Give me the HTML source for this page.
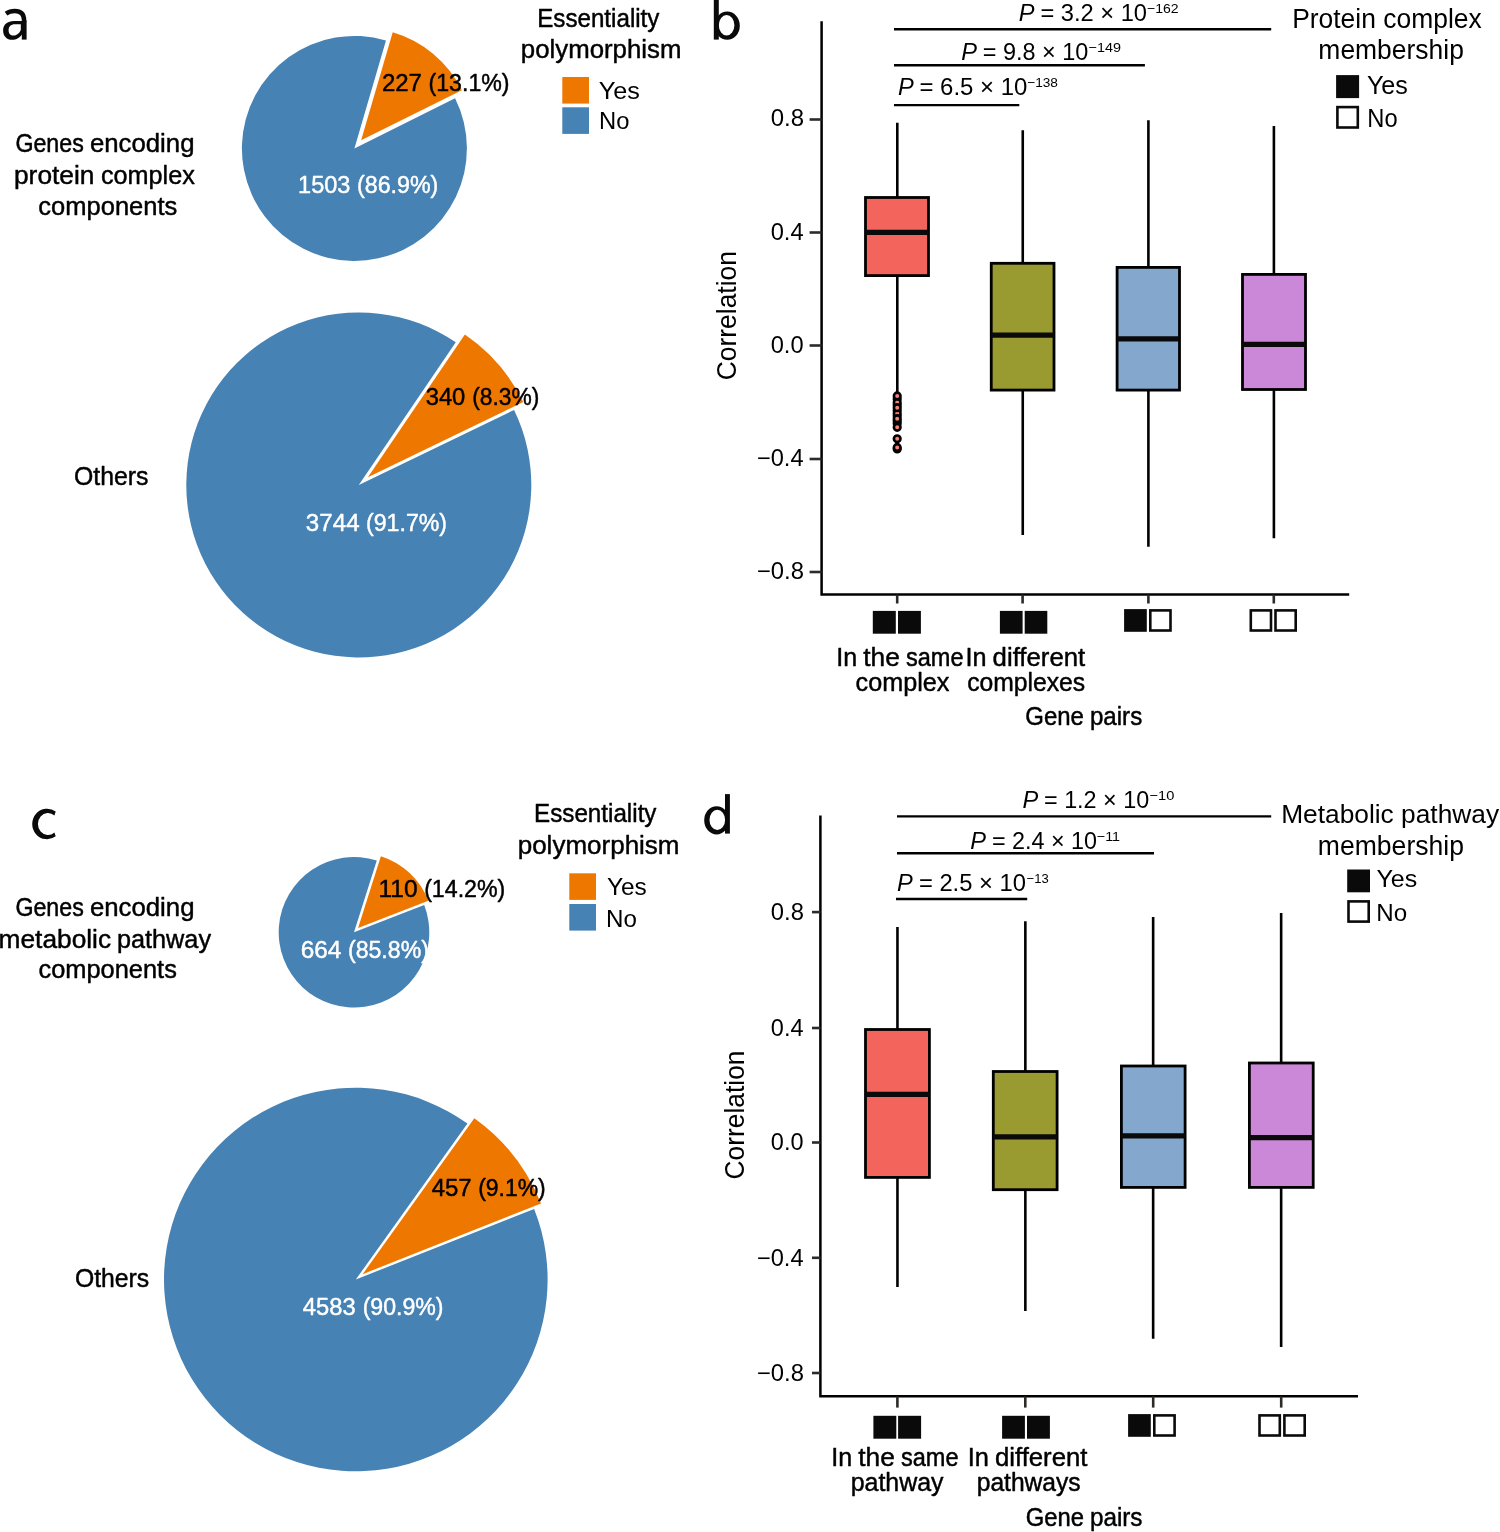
<!DOCTYPE html>
<html><head><meta charset="utf-8"><style>html,body{margin:0;padding:0;background:#fff;width:1500px;height:1532px;overflow:hidden}svg{display:block;will-change:transform}text{font-family:"Liberation Sans",sans-serif}</style></head><body>
<svg xmlns="http://www.w3.org/2000/svg" width="1500" height="1532" viewBox="0 0 1500 1532" font-family="'Liberation Sans', sans-serif">
<rect width="1500" height="1532" fill="#fff"/>

<g fill="#0a0a0a">
<path d="M55.7 811.6 A14.8 15.25 0 1 0 55.7 836.3 L54.4 832.6 A10.1 11.1 0 1 1 54.4 815.4 Z"/>
<rect x="713.8" y="-2" width="5.0" height="41.6"/>
<path fill-rule="evenodd" d="M714.6 25.7 A12.6 14.1 0 1 0 739.8 25.7 A12.6 14.1 0 1 0 714.6 25.7 Z M718.8 25.3 A7.8 10.2 0 1 1 734.4 25.3 A7.8 10.2 0 1 1 718.8 25.3 Z"/>
<rect x="725.0" y="794.1" width="4.9" height="39.5"/>
<path fill-rule="evenodd" d="M704.2 820.35 A12.4 14.15 0 1 0 729.0 820.35 A12.4 14.15 0 1 0 704.2 820.35 Z M709.5 819.9 A7.8 10.2 0 1 1 725.1 819.9 A7.8 10.2 0 1 1 709.5 819.9 Z"/>
<rect x="21.8" y="20.4" width="4.8" height="19.2"/>
<path d="M6.0 13.6 C8.8 11.6 12.0 11.0 14.8 11.0 C21.0 11.0 24.1 14.0 24.1 20.5 V22" fill="none" stroke="#0a0a0a" stroke-width="4.4"/>
<path fill-rule="evenodd" d="M23 21 H14 C7.5 21 3.1 24.5 3.1 30.5 C3.1 36.3 7.0 39.8 12.0 39.8 C16.5 39.8 20.0 37.5 22.0 34.5 Z M20.8 24.2 H15 C10.8 24.2 8.6 26.5 8.6 30.2 C8.6 33.5 10.5 35.6 13.3 35.6 C16.8 35.6 19.6 33 20.8 30 Z"/>
</g>

<path d="M354.40 148.40 L455.08 98.20 A112.50 112.50 0 1 1 385.98 40.42 Z" fill="#4682B4"/><path d="M361.14 140.34 L392.71 32.37 A112.50 112.50 0 0 1 461.82 90.15 Z" fill="#EE7700"/>
<path d="M358.80 485.00 L514.10 409.92 A172.50 172.50 0 1 1 455.76 342.33 Z" fill="#4682B4"/><path d="M367.88 477.16 L464.84 334.49 A172.50 172.50 0 0 1 523.19 402.08 Z" fill="#EE7700"/>
<path d="M354.00 932.30 L424.20 905.07 A75.30 75.30 0 1 1 376.77 860.52 Z" fill="#4682B4"/><path d="M358.11 927.93 L380.88 856.15 A75.30 75.30 0 0 1 428.31 900.70 Z" fill="#EE7700"/>
<path d="M355.80 1279.50 L534.13 1208.89 A191.80 191.80 0 1 1 467.45 1123.55 Z" fill="#4682B4"/><path d="M362.66 1274.14 L474.31 1118.19 A191.80 191.80 0 0 1 540.99 1203.54 Z" fill="#EE7700"/>
<rect x="562.30" y="77.00" width="26.7" height="26.6" fill="#EE7700"/>
<rect x="562.30" y="107.30" width="26.7" height="26.6" fill="#4682B4"/>
<rect x="569.30" y="873.30" width="26.7" height="26.6" fill="#EE7700"/>
<rect x="569.30" y="904.00" width="26.7" height="26.6" fill="#4682B4"/>
<line x1="897.30" y1="122.70" x2="897.30" y2="392.00" stroke="#000" stroke-width="2.6"/>
<rect x="865.50" y="197.50" width="63.00" height="78.10" fill="#F3655C" stroke="#000" stroke-width="2.8"/>
<line x1="865.50" y1="232.40" x2="928.50" y2="232.40" stroke="#0a0a0a" stroke-width="5.3"/>
<line x1="1022.75" y1="130.30" x2="1022.75" y2="534.90" stroke="#000" stroke-width="2.6"/>
<rect x="991.25" y="263.30" width="62.75" height="126.80" fill="#999B30" stroke="#000" stroke-width="2.8"/>
<line x1="991.25" y1="335.10" x2="1054.00" y2="335.10" stroke="#0a0a0a" stroke-width="5.3"/>
<line x1="1148.40" y1="120.20" x2="1148.40" y2="546.80" stroke="#000" stroke-width="2.6"/>
<rect x="1117.10" y="267.40" width="62.40" height="122.70" fill="#84A8CD" stroke="#000" stroke-width="2.8"/>
<line x1="1117.10" y1="338.80" x2="1179.50" y2="338.80" stroke="#0a0a0a" stroke-width="5.3"/>
<line x1="1273.90" y1="126.10" x2="1273.90" y2="538.20" stroke="#000" stroke-width="2.6"/>
<rect x="1242.50" y="274.40" width="63.00" height="115.10" fill="#CC88D8" stroke="#000" stroke-width="2.8"/>
<line x1="1242.50" y1="344.40" x2="1305.50" y2="344.40" stroke="#0a0a0a" stroke-width="5.3"/>
<circle cx="897.20" cy="399.00" r="3.3" fill="#F4827A" stroke="#000" stroke-width="2.6"/>
<circle cx="897.20" cy="405.00" r="3.3" fill="#F4827A" stroke="#000" stroke-width="2.6"/>
<circle cx="897.20" cy="410.50" r="3.3" fill="#F4827A" stroke="#000" stroke-width="2.6"/>
<circle cx="897.20" cy="416.00" r="3.3" fill="#F4827A" stroke="#000" stroke-width="2.6"/>
<circle cx="897.20" cy="421.00" r="3.3" fill="#F4827A" stroke="#000" stroke-width="2.6"/>
<circle cx="897.20" cy="423.50" r="3.3" fill="#F4827A" stroke="#000" stroke-width="2.6"/>
<circle cx="897.20" cy="449.00" r="3.3" fill="#F4827A" stroke="#000" stroke-width="2.6"/>
<circle cx="897.20" cy="402.50" r="3.3" fill="#F4827A" stroke="#000" stroke-width="2.6"/>
<circle cx="897.20" cy="413.40" r="3.3" fill="#F4827A" stroke="#000" stroke-width="2.6"/>
<circle cx="897.20" cy="395.90" r="3.3" fill="#F4827A" stroke="#000" stroke-width="2.6"/>
<circle cx="897.20" cy="407.70" r="3.3" fill="#F4827A" stroke="#000" stroke-width="2.6"/>
<circle cx="897.20" cy="418.70" r="3.3" fill="#F4827A" stroke="#000" stroke-width="2.6"/>
<circle cx="897.20" cy="427.30" r="3.3" fill="#F4827A" stroke="#000" stroke-width="2.6"/>
<circle cx="897.20" cy="438.80" r="3.3" fill="#F4827A" stroke="#000" stroke-width="2.6"/>
<circle cx="897.20" cy="447.40" r="3.3" fill="#F4827A" stroke="#000" stroke-width="2.6"/>
<path d="M821.60 21.30 V594.60 H1349.20" fill="none" stroke="#000" stroke-width="2.5"/>
<line x1="809.60" y1="119.50" x2="821.60" y2="119.50" stroke="#2d2a28" stroke-width="2.6"/>
<line x1="809.60" y1="232.50" x2="821.60" y2="232.50" stroke="#2d2a28" stroke-width="2.6"/>
<line x1="809.60" y1="345.50" x2="821.60" y2="345.50" stroke="#2d2a28" stroke-width="2.6"/>
<line x1="809.60" y1="459.00" x2="821.60" y2="459.00" stroke="#2d2a28" stroke-width="2.6"/>
<line x1="809.60" y1="572.00" x2="821.60" y2="572.00" stroke="#2d2a28" stroke-width="2.6"/>
<line x1="897.20" y1="594.60" x2="897.20" y2="603.50" stroke="#2d2a28" stroke-width="2.6"/>
<line x1="1022.60" y1="594.60" x2="1022.60" y2="603.50" stroke="#2d2a28" stroke-width="2.6"/>
<line x1="1148.40" y1="594.60" x2="1148.40" y2="603.50" stroke="#2d2a28" stroke-width="2.6"/>
<line x1="1273.80" y1="594.60" x2="1273.80" y2="603.50" stroke="#2d2a28" stroke-width="2.6"/>
<line x1="894.00" y1="29.20" x2="1271.20" y2="29.20" stroke="#000" stroke-width="2.4"/>
<line x1="894.00" y1="65.30" x2="1144.90" y2="65.30" stroke="#000" stroke-width="2.4"/>
<line x1="894.00" y1="105.10" x2="1019.30" y2="105.10" stroke="#000" stroke-width="2.4"/>
<rect x="1336.10" y="75.10" width="23.00" height="23.00" fill="#0a0a0a"/>
<rect x="1337.40" y="107.10" width="20.40" height="20.40" fill="none" stroke="#0a0a0a" stroke-width="2.6"/>
<rect x="872.80" y="610.90" width="23.00" height="22.80" fill="#0a0a0a"/>
<rect x="898.00" y="610.90" width="22.90" height="22.80" fill="#0a0a0a"/>
<rect x="999.90" y="610.90" width="22.70" height="22.80" fill="#0a0a0a"/>
<rect x="1024.70" y="610.90" width="22.60" height="22.80" fill="#0a0a0a"/>
<rect x="1124.10" y="609.10" width="22.70" height="22.70" fill="#0a0a0a"/>
<rect x="1150.30" y="610.40" width="20.20" height="20.10" fill="none" stroke="#0a0a0a" stroke-width="2.60"/>
<rect x="1250.80" y="610.40" width="20.20" height="20.10" fill="none" stroke="#0a0a0a" stroke-width="2.60"/>
<rect x="1275.50" y="610.40" width="20.20" height="20.10" fill="none" stroke="#0a0a0a" stroke-width="2.60"/>
<line x1="897.45" y1="927.00" x2="897.45" y2="1287.00" stroke="#000" stroke-width="2.6"/>
<rect x="865.50" y="1029.50" width="63.90" height="147.90" fill="#F3655C" stroke="#000" stroke-width="2.8"/>
<line x1="865.50" y1="1094.45" x2="929.40" y2="1094.45" stroke="#0a0a0a" stroke-width="5.3"/>
<line x1="1025.35" y1="921.20" x2="1025.35" y2="1311.10" stroke="#000" stroke-width="2.6"/>
<rect x="993.30" y="1071.50" width="63.80" height="118.20" fill="#999B30" stroke="#000" stroke-width="2.8"/>
<line x1="993.30" y1="1136.95" x2="1057.10" y2="1136.95" stroke="#0a0a0a" stroke-width="5.3"/>
<line x1="1153.15" y1="917.00" x2="1153.15" y2="1338.80" stroke="#000" stroke-width="2.6"/>
<rect x="1121.40" y="1066.00" width="63.70" height="121.40" fill="#84A8CD" stroke="#000" stroke-width="2.8"/>
<line x1="1121.40" y1="1135.85" x2="1185.10" y2="1135.85" stroke="#0a0a0a" stroke-width="5.3"/>
<line x1="1281.15" y1="913.00" x2="1281.15" y2="1347.00" stroke="#000" stroke-width="2.6"/>
<rect x="1249.40" y="1063.00" width="63.80" height="124.40" fill="#CC88D8" stroke="#000" stroke-width="2.8"/>
<line x1="1249.40" y1="1137.60" x2="1313.20" y2="1137.60" stroke="#0a0a0a" stroke-width="5.3"/>
<path d="M820.40 815.60 V1396.30 H1358.00" fill="none" stroke="#000" stroke-width="2.5"/>
<line x1="812.00" y1="912.10" x2="820.40" y2="912.10" stroke="#2d2a28" stroke-width="2.6"/>
<line x1="812.00" y1="1028.00" x2="820.40" y2="1028.00" stroke="#2d2a28" stroke-width="2.6"/>
<line x1="812.00" y1="1142.50" x2="820.40" y2="1142.50" stroke="#2d2a28" stroke-width="2.6"/>
<line x1="812.00" y1="1257.80" x2="820.40" y2="1257.80" stroke="#2d2a28" stroke-width="2.6"/>
<line x1="812.00" y1="1373.00" x2="820.40" y2="1373.00" stroke="#2d2a28" stroke-width="2.6"/>
<line x1="897.40" y1="1396.30" x2="897.40" y2="1407.60" stroke="#2d2a28" stroke-width="2.6"/>
<line x1="1025.30" y1="1396.30" x2="1025.30" y2="1407.60" stroke="#2d2a28" stroke-width="2.6"/>
<line x1="1153.20" y1="1396.30" x2="1153.20" y2="1407.60" stroke="#2d2a28" stroke-width="2.6"/>
<line x1="1281.20" y1="1396.30" x2="1281.20" y2="1407.60" stroke="#2d2a28" stroke-width="2.6"/>
<line x1="897.00" y1="816.40" x2="1271.20" y2="816.40" stroke="#000" stroke-width="2.4"/>
<line x1="897.00" y1="853.20" x2="1154.00" y2="853.20" stroke="#000" stroke-width="2.4"/>
<line x1="896.00" y1="899.00" x2="1027.20" y2="899.00" stroke="#000" stroke-width="2.4"/>
<rect x="1347.20" y="869.50" width="22.80" height="22.80" fill="#0a0a0a"/>
<rect x="1348.50" y="901.40" width="20.20" height="20.20" fill="none" stroke="#0a0a0a" stroke-width="2.6"/>
<rect x="873.40" y="1415.80" width="22.90" height="22.90" fill="#0a0a0a"/>
<rect x="898.10" y="1415.80" width="23.00" height="22.90" fill="#0a0a0a"/>
<rect x="1002.10" y="1415.80" width="22.80" height="22.90" fill="#0a0a0a"/>
<rect x="1027.00" y="1415.80" width="22.90" height="22.90" fill="#0a0a0a"/>
<rect x="1128.10" y="1414.10" width="22.70" height="22.70" fill="#0a0a0a"/>
<rect x="1154.30" y="1415.40" width="20.30" height="20.10" fill="none" stroke="#0a0a0a" stroke-width="2.60"/>
<rect x="1259.50" y="1415.40" width="20.30" height="20.10" fill="none" stroke="#0a0a0a" stroke-width="2.60"/>
<rect x="1284.40" y="1415.40" width="20.30" height="20.10" fill="none" stroke="#0a0a0a" stroke-width="2.60"/>
<text transform="translate(15.44 152.00) scale(0.9099 1)" font-size="25.50" fill="#000" stroke="#000" stroke-width="0.49" stroke-linejoin="round">Genes</text>
<text transform="translate(89.92 152.00) scale(1.0106 1)" font-size="25.50" fill="#000" stroke="#000" stroke-width="0.45" stroke-linejoin="round">encoding</text>
<text transform="translate(13.98 183.80) scale(1.0321 1)" font-size="25.50" fill="#000" stroke="#000" stroke-width="0.44" stroke-linejoin="round">protein</text>
<text transform="translate(100.94 183.80) scale(0.9893 1)" font-size="25.50" fill="#000" stroke="#000" stroke-width="0.45" stroke-linejoin="round">complex</text>
<text transform="translate(38.33 214.60) scale(1.0002 1)" font-size="25.50" fill="#000" stroke="#000" stroke-width="0.45" stroke-linejoin="round">components</text>
<text transform="translate(381.90 91.20) scale(0.9679 1)" font-size="24.80" fill="#000" stroke="#000" stroke-width="0.46" stroke-linejoin="round">227</text>
<text transform="translate(428.54 91.20) scale(0.9332 1)" font-size="24.80" fill="#000" stroke="#000" stroke-width="0.48" stroke-linejoin="round">(13.1%)</text>
<text transform="translate(298.05 193.20) scale(0.9493 1)" font-size="24.80" fill="#fff" stroke="#fff" stroke-width="0.47" stroke-linejoin="round">1503</text>
<text transform="translate(357.04 193.20) scale(0.9367 1)" font-size="24.80" fill="#fff" stroke="#fff" stroke-width="0.48" stroke-linejoin="round">(86.9%)</text>
<text transform="translate(537.24 27.10) scale(0.9478 1)" font-size="25.50" fill="#000" stroke="#000" stroke-width="0.47" stroke-linejoin="round">Essentiality</text>
<text transform="translate(520.81 58.30) scale(1.0125 1)" font-size="25.50" fill="#000" stroke="#000" stroke-width="0.44" stroke-linejoin="round">polymorphism</text>
<text transform="translate(598.71 98.90) scale(1.0237 1)" font-size="24.60" fill="#000">Yes</text>
<text transform="translate(599.04 129.40) scale(0.9675 1)" font-size="24.60" fill="#000">No</text>
<text transform="translate(74.06 485.30) scale(0.9734 1)" font-size="25.50" fill="#000" stroke="#000" stroke-width="0.46" stroke-linejoin="round">Others</text>
<text transform="translate(425.68 405.20) scale(0.9591 1)" font-size="24.80" fill="#000" stroke="#000" stroke-width="0.47" stroke-linejoin="round">340</text>
<text transform="translate(472.16 405.20) scale(0.9186 1)" font-size="24.80" fill="#000" stroke="#000" stroke-width="0.49" stroke-linejoin="round">(8.3%)</text>
<text transform="translate(305.87 530.60) scale(0.9735 1)" font-size="24.80" fill="#fff" stroke="#fff" stroke-width="0.46" stroke-linejoin="round">3744</text>
<text transform="translate(366.04 530.60) scale(0.9332 1)" font-size="24.80" fill="#fff" stroke="#fff" stroke-width="0.48" stroke-linejoin="round">(91.7%)</text>
<text transform="translate(15.44 916.10) scale(0.9099 1)" font-size="25.50" fill="#000" stroke="#000" stroke-width="0.49" stroke-linejoin="round">Genes</text>
<text transform="translate(89.92 916.10) scale(1.0106 1)" font-size="25.50" fill="#000" stroke="#000" stroke-width="0.45" stroke-linejoin="round">encoding</text>
<text transform="translate(-1.42 947.70) scale(1.0318 1)" font-size="25.50" fill="#000" stroke="#000" stroke-width="0.44" stroke-linejoin="round">metabolic</text>
<text transform="translate(116.95 947.70) scale(0.9911 1)" font-size="25.50" fill="#000" stroke="#000" stroke-width="0.45" stroke-linejoin="round">pathway</text>
<text transform="translate(38.53 978.30) scale(0.9965 1)" font-size="25.50" fill="#000" stroke="#000" stroke-width="0.45" stroke-linejoin="round">components</text>
<text transform="translate(378.49 896.80) scale(0.9888 1)" font-size="24.80" fill="#000" stroke="#000" stroke-width="0.46" stroke-linejoin="round">110</text>
<text transform="translate(424.14 896.80) scale(0.9355 1)" font-size="24.80" fill="#000" stroke="#000" stroke-width="0.48" stroke-linejoin="round">(14.2%)</text>
<text transform="translate(300.68 958.00) scale(0.9836 1)" font-size="24.80" fill="#fff" stroke="#fff" stroke-width="0.46" stroke-linejoin="round">664</text>
<text transform="translate(347.94 958.00) scale(0.9332 1)" font-size="24.80" fill="#fff" stroke="#fff" stroke-width="0.48" stroke-linejoin="round">(85.8%)</text>
<text transform="translate(534.03 822.40) scale(0.9494 1)" font-size="25.50" fill="#000" stroke="#000" stroke-width="0.47" stroke-linejoin="round">Essentiality</text>
<text transform="translate(517.70 854.30) scale(1.0196 1)" font-size="25.50" fill="#000" stroke="#000" stroke-width="0.44" stroke-linejoin="round">polymorphism</text>
<text transform="translate(606.92 894.90) scale(1.0093 1)" font-size="24.20" fill="#000">Yes</text>
<text transform="translate(606.11 926.70) scale(0.9977 1)" font-size="24.20" fill="#000">No</text>
<text transform="translate(74.96 1287.30) scale(0.9707 1)" font-size="25.50" fill="#000" stroke="#000" stroke-width="0.46" stroke-linejoin="round">Others</text>
<text transform="translate(431.65 1195.60) scale(0.9691 1)" font-size="24.80" fill="#000" stroke="#000" stroke-width="0.46" stroke-linejoin="round">457</text>
<text transform="translate(478.15 1195.60) scale(0.9257 1)" font-size="24.80" fill="#000" stroke="#000" stroke-width="0.49" stroke-linejoin="round">(9.1%)</text>
<text transform="translate(302.75 1315.10) scale(0.9586 1)" font-size="24.80" fill="#fff" stroke="#fff" stroke-width="0.47" stroke-linejoin="round">4583</text>
<text transform="translate(362.64 1315.10) scale(0.9320 1)" font-size="24.80" fill="#fff" stroke="#fff" stroke-width="0.48" stroke-linejoin="round">(90.9%)</text>
<text transform="translate(1292.13 27.70) scale(0.9792 1)" font-size="27.00" fill="#000">Protein complex</text>
<text transform="translate(1318.35 59.20) scale(0.9796 1)" font-size="27.00" fill="#000">membership</text>
<text transform="translate(1366.91 94.40) scale(1.0048 1)" font-size="25.00" fill="#000">Yes</text>
<text transform="translate(1367.35 126.60) scale(0.9485 1)" font-size="25.00" fill="#000">No</text>
<g transform="translate(736.10 379.00) rotate(-90)"><text transform="translate(-1.24 0) scale(0.9678 1)" font-size="27.30" fill="#000">Correlation</text></g>
<text transform="translate(770.65 125.60) scale(1.0332 1)" font-size="23.20" fill="#000">0.8</text>
<text transform="translate(770.66 239.60) scale(1.0211 1)" font-size="23.20" fill="#000">0.4</text>
<text transform="translate(770.66 353.40) scale(1.0211 1)" font-size="23.20" fill="#000">0.0</text>
<text transform="translate(756.89 466.30) scale(1.0196 1)" font-size="23.20" fill="#000">−0.4</text>
<text transform="translate(756.88 579.30) scale(1.0281 1)" font-size="23.20" fill="#000">−0.8</text>
<text transform="translate(836.17 665.60) scale(0.9836 1)" font-size="25.50" fill="#000" stroke="#000" stroke-width="0.46" stroke-linejoin="round">In</text>
<text transform="translate(863.23 665.60) scale(1.0330 1)" font-size="25.50" fill="#000" stroke="#000" stroke-width="0.44" stroke-linejoin="round">the</text>
<text transform="translate(905.96 665.60) scale(0.9233 1)" font-size="25.50" fill="#000" stroke="#000" stroke-width="0.49" stroke-linejoin="round">same</text>
<text transform="translate(855.54 690.50) scale(0.9893 1)" font-size="25.50" fill="#000" stroke="#000" stroke-width="0.45" stroke-linejoin="round">complex</text>
<text transform="translate(965.45 665.60) scale(0.9892 1)" font-size="25.50" fill="#000" stroke="#000" stroke-width="0.45" stroke-linejoin="round">In</text>
<text transform="translate(992.62 665.60) scale(1.0108 1)" font-size="25.50" fill="#000" stroke="#000" stroke-width="0.45" stroke-linejoin="round">different</text>
<text transform="translate(967.15 690.50) scale(0.9689 1)" font-size="25.50" fill="#000" stroke="#000" stroke-width="0.46" stroke-linejoin="round">complexes</text>
<text transform="translate(1025.30 724.60) scale(0.9401 1)" font-size="25.50" fill="#000" stroke="#000" stroke-width="0.48" stroke-linejoin="round">Gene</text>
<text transform="translate(1089.92 724.60) scale(0.9465 1)" font-size="25.50" fill="#000" stroke="#000" stroke-width="0.48" stroke-linejoin="round">pairs</text>
<text transform="translate(1281.14 823.10) scale(0.9861 1)" font-size="26.70" fill="#000">Metabolic pathway</text>
<text transform="translate(1317.84 854.80) scale(0.9948 1)" font-size="26.70" fill="#000">membership</text>
<text transform="translate(1376.41 886.60) scale(1.0327 1)" font-size="24.20" fill="#000">Yes</text>
<text transform="translate(1376.21 920.80) scale(0.9977 1)" font-size="24.20" fill="#000">No</text>
<g transform="translate(744.20 1178.20) rotate(-90)"><text transform="translate(-1.24 0) scale(0.9655 1)" font-size="27.30" fill="#000">Correlation</text></g>
<text transform="translate(770.86 920.00) scale(1.0266 1)" font-size="23.20" fill="#000">0.8</text>
<text transform="translate(770.86 1036.00) scale(1.0146 1)" font-size="23.20" fill="#000">0.4</text>
<text transform="translate(770.86 1150.40) scale(1.0146 1)" font-size="23.20" fill="#000">0.0</text>
<text transform="translate(756.89 1265.80) scale(1.0196 1)" font-size="23.20" fill="#000">−0.4</text>
<text transform="translate(756.88 1381.00) scale(1.0281 1)" font-size="23.20" fill="#000">−0.8</text>
<text transform="translate(831.17 1466.00) scale(0.9836 1)" font-size="25.50" fill="#000" stroke="#000" stroke-width="0.46" stroke-linejoin="round">In</text>
<text transform="translate(858.23 1466.00) scale(1.0330 1)" font-size="25.50" fill="#000" stroke="#000" stroke-width="0.44" stroke-linejoin="round">the</text>
<text transform="translate(900.96 1466.00) scale(0.9233 1)" font-size="25.50" fill="#000" stroke="#000" stroke-width="0.49" stroke-linejoin="round">same</text>
<text transform="translate(850.67 1490.60) scale(0.9782 1)" font-size="25.50" fill="#000" stroke="#000" stroke-width="0.46" stroke-linejoin="round">pathway</text>
<text transform="translate(967.74 1466.00) scale(0.9948 1)" font-size="25.50" fill="#000" stroke="#000" stroke-width="0.45" stroke-linejoin="round">In</text>
<text transform="translate(994.92 1466.00) scale(1.0097 1)" font-size="25.50" fill="#000" stroke="#000" stroke-width="0.45" stroke-linejoin="round">different</text>
<text transform="translate(976.69 1490.60) scale(0.9659 1)" font-size="25.50" fill="#000" stroke="#000" stroke-width="0.47" stroke-linejoin="round">pathways</text>
<text transform="translate(1025.71 1526.40) scale(0.9335 1)" font-size="25.50" fill="#000" stroke="#000" stroke-width="0.48" stroke-linejoin="round">Gene</text>
<text transform="translate(1089.91 1526.40) scale(0.9522 1)" font-size="25.50" fill="#000" stroke="#000" stroke-width="0.47" stroke-linejoin="round">pairs</text>
<text x="1018.73" y="20.80" font-size="23.60" font-style="italic">P</text>
<text transform="translate(1033.81 20.80) scale(1.0038 1)" font-size="23.60" xml:space="preserve"> = 3.2 × 10</text>
<text transform="translate(1146.94 13.10) scale(1.0801 1)" font-size="13.00">−162</text>
<text x="961.13" y="59.50" font-size="23.60" font-style="italic">P</text>
<text transform="translate(976.28 59.50) scale(0.9943 1)" font-size="23.60" xml:space="preserve"> = 9.8 × 10</text>
<text transform="translate(1088.52 52.00) scale(1.1085 1)" font-size="13.00">−149</text>
<text x="898.03" y="95.00" font-size="23.60" font-style="italic">P</text>
<text transform="translate(912.82 95.00) scale(1.0153 1)" font-size="23.60" xml:space="preserve"> = 6.5 × 10</text>
<text transform="translate(1027.16 86.60) scale(1.0517 1)" font-size="13.00">−138</text>
<text x="1022.53" y="807.60" font-size="23.60" font-style="italic">P</text>
<text transform="translate(1037.51 807.60) scale(0.9905 1)" font-size="23.60" xml:space="preserve"> = 1.2 × 10</text>
<text transform="translate(1149.51 799.60) scale(1.1270 1)" font-size="13.00">−10</text>
<text x="970.33" y="849.00" font-size="23.60" font-style="italic">P</text>
<text transform="translate(985.42 849.00) scale(0.9895 1)" font-size="23.60" xml:space="preserve"> = 2.4 × 10</text>
<text transform="translate(1096.83 841.30) scale(1.1027 1)" font-size="13.00">−11</text>
<text x="897.03" y="891.30" font-size="23.60" font-style="italic">P</text>
<text transform="translate(912.27 891.30) scale(1.0086 1)" font-size="23.60" xml:space="preserve"> = 2.5 × 10</text>
<text transform="translate(1026.59 883.40) scale(1.0040 1)" font-size="13.00">−13</text>
</svg>
</body></html>
